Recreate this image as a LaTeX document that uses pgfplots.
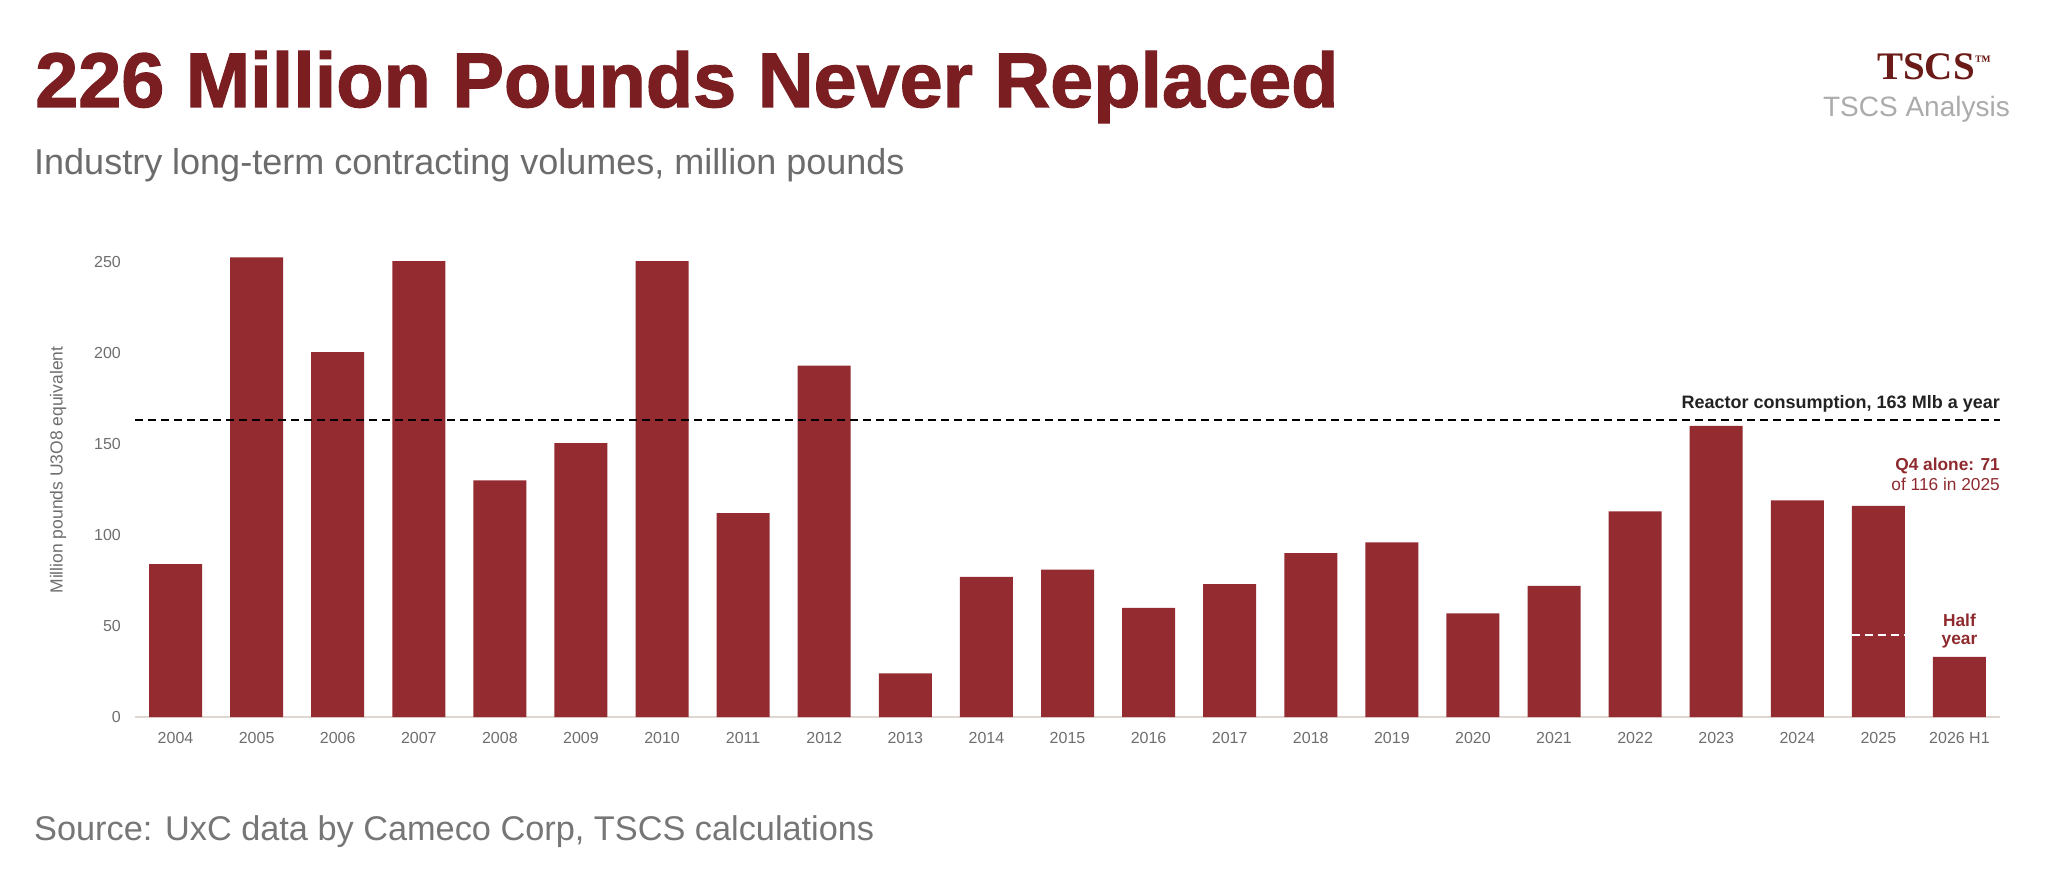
\documentclass[border=0pt]{standalone}
\usepackage{fontspec}
\setmainfont{Liberation Sans}
\newfontfamily\titlefont{Liberation Sans Bold}[FakeBold=1.6]
\newfontfamily\brandfont{Liberation Serif Bold}
\usepackage{pgfplots}
\pgfplotsset{compat=1.18}
\definecolor{barred}{RGB}{147,43,48}
\definecolor{titlered}{RGB}{122,30,34}
\definecolor{annored}{RGB}{142,42,46}
\definecolor{tickgray}{RGB}{110,110,110}
\definecolor{subgray}{RGB}{108,108,108}
\definecolor{srcgray}{RGB}{118,118,118}
\definecolor{baseline}{RGB}{224,216,208}
\definecolor{brand}{RGB}{107,27,23}
\definecolor{brandgray}{RGB}{171,171,171}
\definecolor{darktext}{RGB}{34,34,34}
\begin{document}
\begin{tikzpicture}[x=1pt,y=1pt]
\path[use as bounding box] (0,0) rectangle (2048,887);
\begin{axis}[
  at={(135pt,170pt)}, anchor=south west,
  scale only axis, width=1865pt, height=473.2pt,
  xmin=-0.5, xmax=22.5, ymin=0, ymax=260,
  clip=false,
  axis line style={draw=none},
  major tick length=0pt,
  xtick={0,...,22},
  xticklabels={2004,2005,2006,2007,2008,2009,2010,2011,2012,2013,2014,2015,2016,2017,2018,2019,2020,2021,2022,2023,2024,2025,2026 H1},
  ytick={0,50,100,150,200,250},
  ticklabel style={font=\fontsize{16}{18}\selectfont, text=tickgray},
  /pgf/number format/assume math mode=true,
  yticklabel style={anchor=east, inner sep=0pt, xshift=-14pt},
  xticklabel style={anchor=north, inner sep=0pt, yshift=-15pt},
]
\addplot[draw=baseline, line width=1.5pt, forget plot] coordinates {(-0.5,0) (22.5,0)};
\addplot[ybar, bar width=53pt, fill=barred, draw=none] coordinates {
(0,84) (1,252.5) (2,200.5) (3,250.5) (4,130) (5,150.5) (6,250.5) (7,112) (8,193) (9,24)
(10,77) (11,81) (12,60) (13,73) (14,90) (15,96) (16,57) (17,72) (18,113) (19,160)
(20,119) (21,116) (22,33)};
\addplot[black, line width=2pt, dash pattern=on 8pt off 5pt] coordinates {(-0.5,163) (22.5,163)};
\addplot[white, line width=2pt, dash pattern=on 8pt off 5pt] coordinates {(20.675,45) (21.325,45)};
\node[anchor=base east, inner sep=0pt, text=darktext, font=\bfseries\fontsize{18}{20}\selectfont] at (axis cs:22.5,169.5) {Reactor consumption, 163 Mlb a year};
\node[anchor=base east, inner sep=0pt, text=annored, font=\bfseries\fontsize{17.3}{20}\selectfont] at (axis cs:22.5,135.7) {Q4 alone: 71};
\node[anchor=base east, inner sep=0pt, text=annored, font=\fontsize{17.3}{20}\selectfont] at (axis cs:22.5,124.3) {of 116 in 2025};
\node[anchor=base, inner sep=0pt, text=annored, font=\bfseries\fontsize{17.3}{20}\selectfont] at (axis cs:22,50) {Half};
\node[anchor=base, inner sep=0pt, text=annored, font=\bfseries\fontsize{17.3}{20}\selectfont] at (axis cs:22,39.6) {year};
\end{axis}
\node[anchor=base west, inner sep=0pt, text=titlered, font=\titlefont\fontsize{77.4}{80}\selectfont] at (35,780) {226 Million Pounds Never Replaced};
\node[anchor=base west, inner sep=0pt, text=subgray, font=\fontsize{36}{40}\selectfont] at (34,712) {Industry long-term contracting volumes, million pounds};
\node[anchor=base west, inner sep=0pt, text=srcgray, font=\fontsize{34.3}{40}\selectfont] at (34,47) {Source: UxC data by Cameco Corp, TSCS calculations};
\node[anchor=base, inner sep=0pt, text=brand, font=\brandfont\fontsize{39}{42}\selectfont] at (1934,807) {TSCS\raisebox{13pt}{\fontsize{16}{16}\selectfont ™}};
\node[anchor=base east, inner sep=0pt, text=brandgray, font=\fontsize{28}{30}\selectfont] at (2010,770) {TSCS Analysis};
\node[rotate=90, inner sep=0pt, text=tickgray, font=\fontsize{17.5}{20}\selectfont] at (58,417) {Million pounds U3O8 equivalent};
\end{tikzpicture}
\end{document}
